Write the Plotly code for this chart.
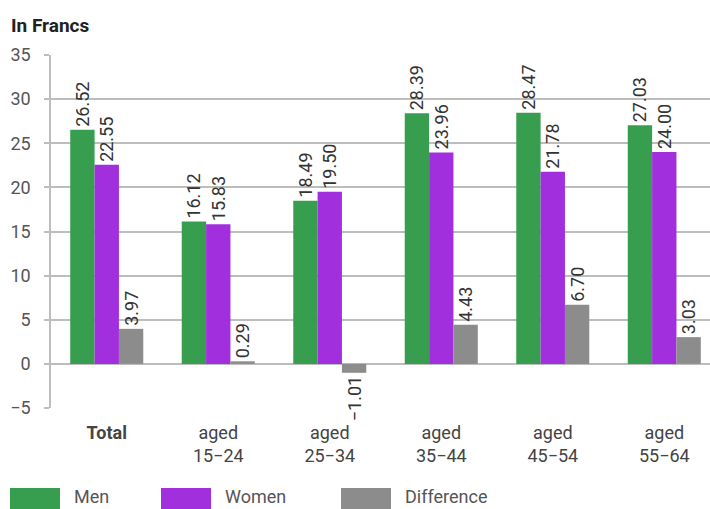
import plotly.graph_objects as go

categories = ["<b>Total</b>", "aged<br>15−24", "aged<br>25−34", "aged<br>35−44", "aged<br>45−54", "aged<br>55−64"]
men = [26.52, 16.12, 18.49, 28.39, 28.47, 27.03]
women = [22.55, 15.83, 19.50, 23.96, 21.78, 24.00]
difference = [3.97, 0.29, -1.01, 4.43, 6.70, 3.03]
series_names = ["Men", "Women", "Difference"]
colors = ["#389e4f", "#a22fdd", "#8c8c8c"]

W, H = 710, 509
L, R, T, B = 51, 0, 55, 101
PW, PH = W - L - R, H - T - B

def fmt(v):
    return f"{v:.2f}".replace("-", "−")

fig = go.Figure()
for name, vals, col in zip(series_names, [men, women, difference], colors):
    fig.add_trace(go.Bar(
        x=categories, y=vals, name=name, marker=dict(color=col, line=dict(width=0)),
        text=[fmt(v) for v in vals], textposition="outside", textangle=-90,
        constraintext="none",
        textfont=dict(family="Roboto", size=18, color="#333333"),
        cliponaxis=False, showlegend=False,
    ))

def px(x):
    return (x - L) / PW

def py(y):
    return (H - B - y) / PH

shapes = []
annotations = []
legend_pos = [(10, 72), (161, 223), (341, 403)]
for (sx, tx), name, col in zip(legend_pos, series_names, colors):
    shapes.append(dict(type="rect", xref="paper", yref="paper",
                       x0=px(sx), x1=px(sx + 50), y0=py(510), y1=py(488),
                       fillcolor=col, line=dict(width=0)))
    annotations.append(dict(xref="paper", yref="paper", x=px(tx), y=py(496),
                            text=name, showarrow=False, xanchor="left", yanchor="middle",
                            font=dict(family="Roboto", size=18, color="#555555")))

annotations.append(dict(xref="paper", yref="paper", x=px(9), y=py(25),
                        text="<b>In Francs</b>", showarrow=False, xanchor="left", yanchor="middle",
                        font=dict(family="Roboto", size=19, color="#222222")))

fig.update_layout(
    width=W, height=H, margin=dict(l=L, r=R, t=T, b=B),
    paper_bgcolor="white", plot_bgcolor="white",
    barmode="group", bargap=0.345, bargroupgap=0,
    font=dict(family="Roboto", color="#444444"),
    shapes=shapes, annotations=annotations,
    xaxis=dict(range=[-0.5, 5.41], showline=False, ticks="",
               tickfont=dict(family="Roboto", size=18, color="#444444"),
               ticklabelstandoff=12, showgrid=False),
    yaxis=dict(range=[-5, 35], dtick=5, showgrid=True, gridcolor="#bdbdbd", gridwidth=1.5,
               zeroline=True, zerolinecolor="#bdbdbd", zerolinewidth=1.5,
               showline=True, linecolor="#bdbdbd", linewidth=1.5, mirror=False,
               ticks="outside", ticklen=5, tickcolor="#bdbdbd", tickwidth=1.5,
               tickfont=dict(family="Roboto", size=18, color="#555555"),
               ticklabelstandoff=10),
)
fig.write_html("out.html")
